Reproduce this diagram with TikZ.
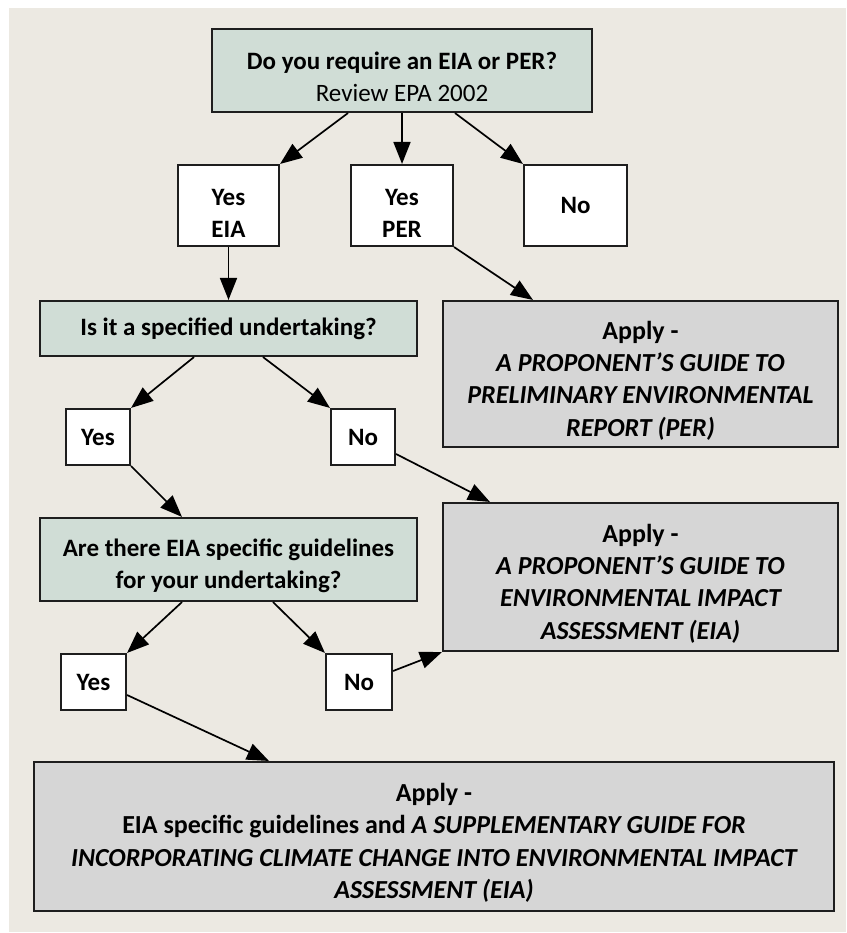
\documentclass[tikz,border=0pt]{standalone}
\usepackage{fontspec}
\setmainfont{Carlito}
\usetikzlibrary{arrows.meta,calc}

\definecolor{pagebg}{HTML}{ECE9E2}
\definecolor{askfill}{HTML}{D0DDD6}
\definecolor{applyfill}{HTML}{D6D6D6}
\definecolor{edge}{HTML}{1E1E1E}

% tall invisible strut for the first line of stacked text
\newcommand{\firstline}{\rule{0pt}{31pt}}

\tikzset{
  box/.style={draw=edge, line width=2.1pt, rectangle, align=center, inner sep=0pt,
    font=\fontsize{25}{32}\selectfont\bfseries},
  ask/.style={box, fill=askfill},
  answer/.style={box, fill=white},
  apply/.style={box, fill=applyfill, font=\fontsize{26}{32.3}\selectfont\bfseries},
  flow/.style={draw=black, line width=1.7pt, -{Triangle[length=22pt,width=17pt]}},
}

\begin{document}
\begin{tikzpicture}[x=1pt,y=-1pt]
  \useasboundingbox (0,0) rectangle (846,933);
  \fill[pagebg] (9,8) rectangle (846,932);

  % question boxes
  \node[ask, minimum width=380pt, minimum height=83pt] (top) at (402,70.5)
    {\firstline Do you require an EIA or PER?\\{\mdseries Review EPA 2002}};
  \node[ask, minimum width=377pt, minimum height=55pt] (spec) at (228.5,328.5)
    {Is it a specified undertaking?};
  \node[ask, minimum width=377pt, minimum height=83pt] (guide) at (228.5,559.5)
    {\firstline Are there EIA specific guidelines\\for your undertaking?};

  % answer boxes
  \node[answer, minimum width=101pt, minimum height=81pt] (yeseia) at (228.5,205.5) {\firstline Yes\\EIA};
  \node[answer, minimum width=102pt, minimum height=81pt] (yesper) at (402,205.5) {\firstline Yes\\PER};
  \node[answer, minimum width=103pt, minimum height=81pt] (noenv) at (575.5,205.5) {No};
  \node[answer, minimum width=64pt, minimum height=56pt] (yesspec) at (98,437) {Yes};
  \node[answer, minimum width=64pt, minimum height=56pt] (nospec) at (363,437) {No};
  \node[answer, minimum width=65pt, minimum height=56pt] (yesguide) at (93.5,682) {Yes};
  \node[answer, minimum width=66pt, minimum height=56pt] (noguide) at (359,682) {No};

  % guidance boxes
  \node[apply, minimum width=395pt, minimum height=146pt] (applyper) at (640.5,374)
    {\firstline Apply -\\\itshape A PROPONENT'S GUIDE TO\\\itshape PRELIMINARY ENVIRONMENTAL\\\itshape REPORT (PER)};
  \node[apply, minimum width=395pt, minimum height=148pt] (applyeia) at (640.5,577)
    {\firstline Apply -\\\itshape A PROPONENT'S GUIDE TO\\\itshape ENVIRONMENTAL IMPACT\\\itshape ASSESSMENT (EIA)};
  \node[apply, minimum width=800pt, minimum height=149pt] (final) at (434,836.5)
    {\firstline Apply -\\EIA specific guidelines and \textit{A SUPPLEMENTARY GUIDE FOR}\\\itshape INCORPORATING CLIMATE CHANGE INTO ENVIRONMENTAL IMPACT\\\itshape ASSESSMENT (EIA)};

  % connectors
  \draw[flow] ($(top.south)+(-54,0)$) -- (yeseia.north east);
  \draw[flow] (top.south) -- (yesper.north);
  \draw[flow] ($(top.south)+(53,0)$) -- (noenv.north west);
  \draw[flow] (yeseia.south) -- (spec.north);
  \draw[flow] (yesper.south east) -- ($(applyper.north west)+(91,0)$);
  \draw[flow] ($(spec.south)+(-34.5,0)$) -- (yesspec.north east);
  \draw[flow] ($(spec.south)+(34.5,0)$) -- (nospec.north west);
  \draw[flow] (yesspec.south east) -- ($(guide.north)+(-46.5,0)$);
  \draw[flow] ($(nospec.east)+(0,17)$) -- ($(applyeia.north west)+(48,0)$);
  \draw[flow] ($(guide.south)+(-46.5,0)$) -- (yesguide.north east);
  \draw[flow] ($(guide.south)+(44.5,0)$) -- (noguide.north west);
  \draw[flow] ($(noguide.east)+(0,-11)$) -- (applyeia.south west);
  \draw[flow] ($(yesguide.east)+(0,13)$) -- ($(final.north west)+(236,0)$);
\end{tikzpicture}
\end{document}
